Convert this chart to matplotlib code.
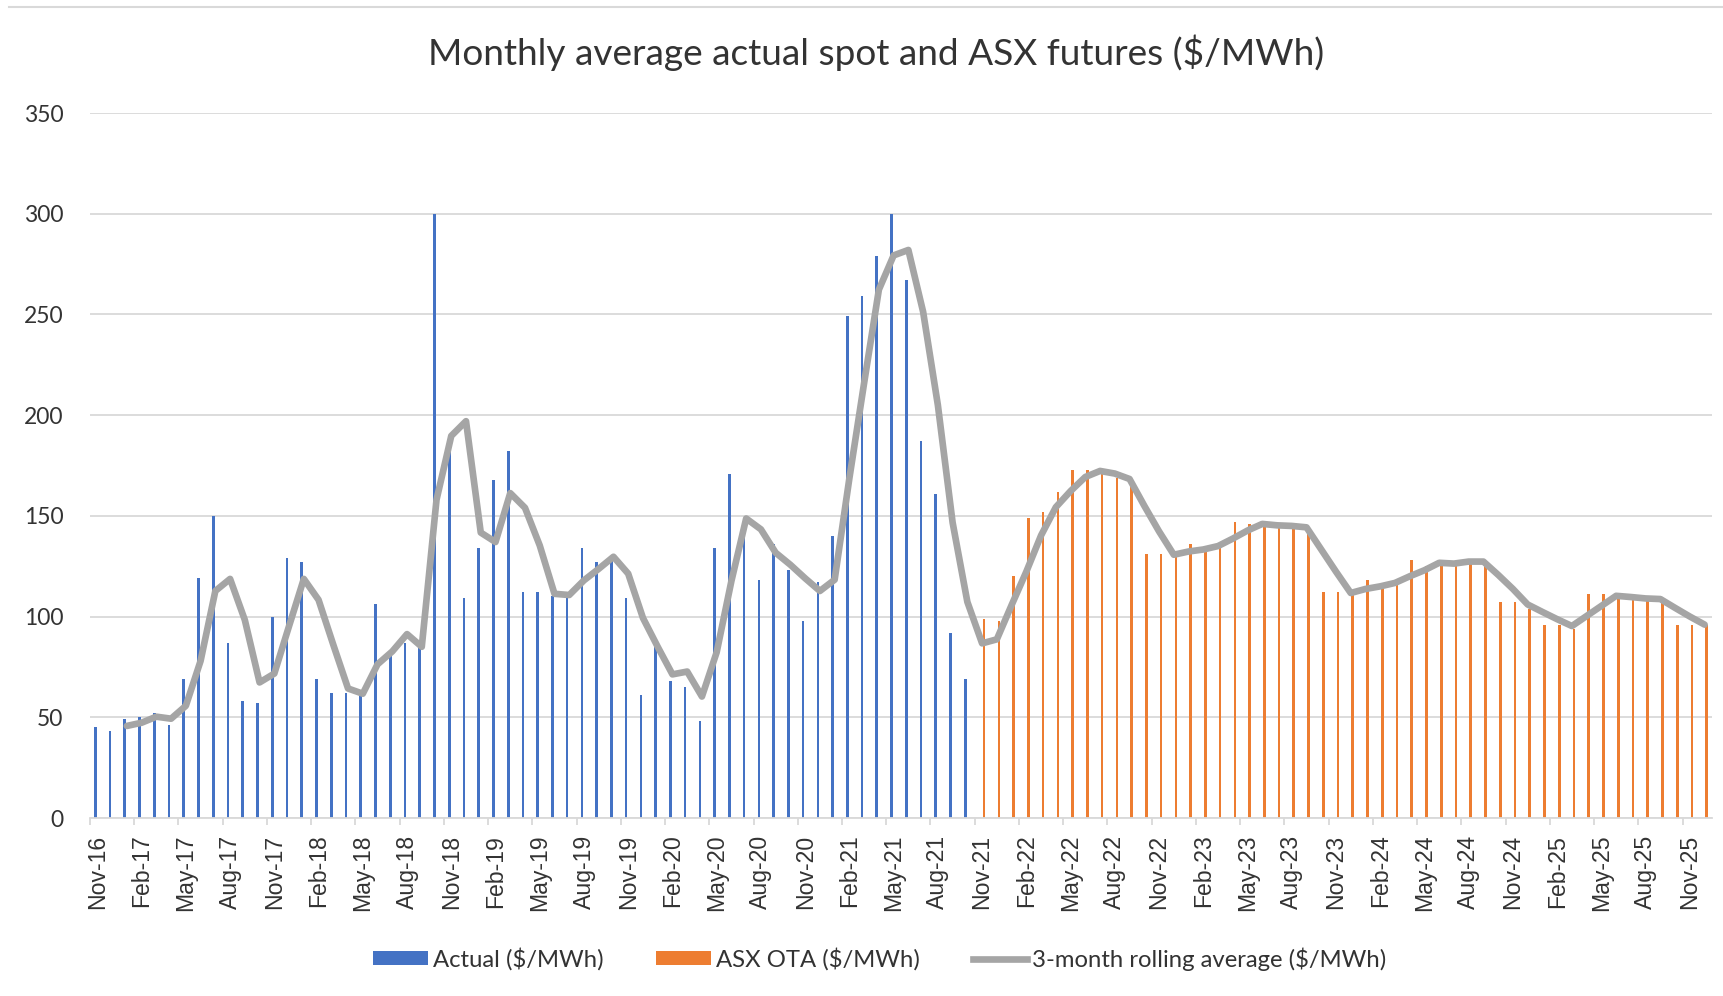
import matplotlib
matplotlib.use('Agg')
import matplotlib.pyplot as plt
import numpy as np
import pandas as pd
from matplotlib.lines import Line2D
from matplotlib.patches import Patch

# ---------------- data ----------------
months = pd.date_range('2016-11-01', periods=110, freq='MS').strftime('%b-%y').tolist()

tick_labels = ['Nov-16', 'Feb-17', 'May-17', 'Aug-17', 'Nov-17', 'Feb-18', 'May-18', 'Aug-18',
               'Nov-18', 'Feb-19', 'May-19', 'Aug-19', 'Nov-19', 'Feb-20', 'May-20', 'Aug-20',
               'Nov-20', 'Feb-21', 'May-21', 'Aug-21', 'Nov-21', 'Feb-22', 'May-22', 'Aug-22',
               'Nov-22', 'Feb-23', 'May-23', 'Aug-23', 'Nov-23', 'Feb-24', 'May-24', 'Aug-24',
               'Nov-24', 'Feb-25', 'May-25', 'Aug-25', 'Nov-25']

# Actual spot, Nov-16 .. Oct-21
actual = [45, 43, 49, 50, 52, 46, 69, 119, 150, 87, 58, 57,
          100, 129, 127, 69, 62, 62, 61, 106, 81, 87, 87, 300,
          182, 109, 134, 168, 182, 112, 112, 110, 110, 134, 127, 128,
          109, 61, 85, 68, 65, 48, 134, 171, 141, 118, 136, 123,
          98, 117, 140, 249, 259, 279, 300, 267, 187, 161, 92, 69]

# ASX OTA futures, Nov-21 .. Dec-25
asx = [99, 98, 120, 149, 152, 162, 173, 173, 171, 169, 165, 131,
       131, 130, 136, 134, 135, 147, 146, 145, 145, 145, 143, 112,
       112, 111, 118, 116, 116, 128, 125, 127, 127, 128, 127, 107,
       107, 104, 96, 96, 94, 111, 111, 109, 109, 109, 108, 96,
       96, 96]

# 3-month rolling average, Jan-17 .. Dec-25
rolling = [45.7, 47.3, 50.3, 49.3, 55.7, 78.0, 112.7, 118.7, 98.3, 67.3,
           71.7, 95.3, 118.7, 108.3, 86.0, 64.3, 61.7, 76.3, 82.7, 91.3,
           85.0, 158.0, 189.7, 197.0, 141.7, 137.0, 161.3, 154.0, 135.3, 111.3,
           110.7, 118.0, 123.7, 129.7, 121.3, 99.3, 85.0, 71.3, 72.7, 60.3,
           82.3, 117.7, 148.7, 143.3, 131.7, 125.7, 119.0, 112.7, 118.3, 168.7,
           216.0, 262.3, 279.3, 282.0, 251.3, 205.0, 146.7, 107.3, 86.7, 88.7,
           105.7, 122.3, 140.3, 154.3, 162.3, 169.3, 172.3, 171.0, 168.3, 155.0,
           142.3, 130.7, 132.3, 133.3, 135.0, 138.7, 142.7, 146.0, 145.3, 145.0,
           144.3, 133.3, 122.3, 111.7, 113.7, 115.0, 116.7, 120.0, 123.0, 126.7,
           126.3, 127.3, 127.3, 120.7, 113.7, 106.0, 102.3, 98.7, 95.3, 100.3,
           105.3, 110.3, 109.7, 109.0, 108.7, 104.3, 100.0, 96.0]

title = 'Monthly average actual spot and ASX futures ($/MWh)'
lab_actual = 'Actual ($/MWh)'
lab_asx = 'ASX OTA ($/MWh)'
lab_roll = '3-month rolling average ($/MWh)'

# ---------------- plot ----------------
C_BLUE = '#4472C4'
C_ORANGE = '#ED7D31'
C_GREY = '#A5A5A5'
C_GRID = '#D9D9D9'
C_TEXT = '#333333'
CAL = ['Lato', 'DejaVu Sans']

W, H = 1723, 996
fig = plt.figure(figsize=(W / 100, H / 100), dpi=100)

L, R, T, B = 90, 1712, 113, 818
ax = fig.add_axes([L / W, 1 - B / H, (R - L) / W, (B - T) / H])

n = len(months)
x = np.arange(n)
x_act = x[:len(actual)]
x_asx = x[len(actual):len(actual) + len(asx)]
x_roll = x[n - len(rolling):]

ax.bar(x_act - 0.14, actual, width=0.18, color=C_BLUE, zorder=2)
ax.bar(x_asx + 0.14, asx, width=0.18, color=C_ORANGE, zorder=2)
ax.plot(x_roll, rolling, color=C_GREY, lw=4.8, solid_joinstyle='round',
        solid_capstyle='round', zorder=3)

ax.set_xlim(-0.5, n - 0.5)
ax.set_ylim(0, 350)
ax.set_yticks(np.arange(0, 351, 50))
ax.grid(axis='y', color=C_GRID, lw=1.3, zorder=0)
ax.set_axisbelow(True)
for s in ['top', 'right', 'left']:
    ax.spines[s].set_visible(False)
ax.spines['bottom'].set_color(C_GRID)
ax.spines['bottom'].set_linewidth(1.3)

ax.set_xticks(x[::3])
ax.set_xticklabels(tick_labels, rotation=90, fontfamily='Liberation Sans',
                   fontsize=16.6, color=C_TEXT)
ax.set_xticks(np.arange(-0.5, n - 1, 3), minor=True)
ax.tick_params(axis='x', which='major', length=0, pad=12)
ax.tick_params(axis='x', which='minor', length=5, color=C_GRID, width=1.3)
ax.tick_params(axis='y', length=0, pad=19, labelsize=16.5, labelcolor=C_TEXT)
for t in ax.get_yticklabels():
    t.set_fontfamily(CAL)

# title
ttl = fig.text(876 / W, 1 - 53 / H, title, ha='center', va='center',
               fontfamily=CAL, fontsize=28, color=C_TEXT)

# top border line of chart area
fig.add_artist(Line2D([9 / W, 1.0], [1 - 7 / H, 1 - 7 / H], transform=fig.transFigure,
                      color=C_GRID, lw=1.5))

# legend
handles = [Patch(facecolor=C_BLUE, edgecolor='none'),
           Patch(facecolor=C_ORANGE, edgecolor='none'),
           Line2D([0], [0], color=C_GREY, lw=4.8)]
leg = ax.legend(handles, [lab_actual, lab_asx, lab_roll], loc='center',
                bbox_to_anchor=(880 / W, 1 - 959 / H), bbox_transform=fig.transFigure,
                ncol=3, frameon=False, handlelength=2.3, handleheight=0.5,
                handletextpad=0.2, columnspacing=2.2,
                prop={'family': CAL, 'size': 17.2})
for t in leg.get_texts():
    t.set_color(C_TEXT)

# fit title width to reference (~898 px)
fig.canvas.draw()
r = fig.canvas.get_renderer()
w = ttl.get_window_extent(r).width
ttl.set_fontsize(ttl.get_fontsize() * 898 / w)

fig.savefig('out.png', dpi=100)
